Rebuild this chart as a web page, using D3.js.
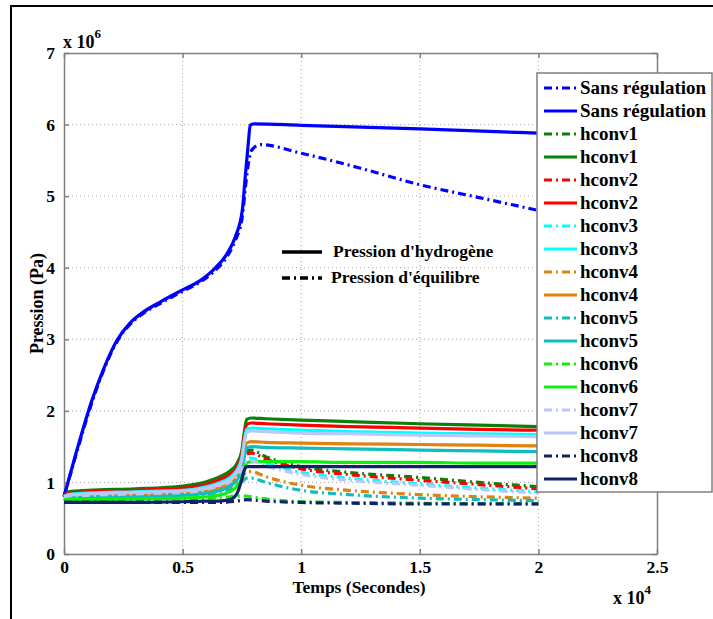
<!DOCTYPE html>
<html>
<head>
<meta charset="utf-8">
<script src="https://cdn.jsdelivr.net/npm/d3@7"></script>
<style>
  html, body { margin: 0; padding: 0; background: #fff; }
  svg { display: block; }
  text { font-family: "Liberation Serif", "DejaVu Serif", serif; font-weight: bold; }
</style>
</head>
<body>
<svg id="chart" width="713" height="619"></svg>
<script>
// ---------- DATA (time in seconds, pressure in Pa ×1e6) ----------
const xTicks = [0, 5000, 10000, 15000, 20000, 25000];
const xTickLabels = ["0", "0.5", "1", "1.5", "2", "2.5"];
const yTicks = [0, 1e6, 2e6, 3e6, 4e6, 5e6, 6e6, 7e6];
const yTickLabels = ["0", "1", "2", "3", "4", "5", "6", "7"];

// Sans régulation
const tSans = [0, 500, 1180, 1650, 2240, 2790, 3340, 4050, 5000, 5740, 6300, 6880, 7220, 7520, 7640, 7770, 7850, 8000, 10000, 15000, 20000];
const sansH2 = [0.80, 1.40, 2.15, 2.57, 2.99, 3.23, 3.38, 3.52, 3.69, 3.82, 3.97, 4.20, 4.43, 4.81, 5.27, 5.74, 5.99, 6.01, 5.99, 5.94, 5.88];
const tSansEq = [0, 500, 1180, 1650, 2240, 2790, 3340, 4050, 5000, 5740, 6300, 6880, 7220, 7520, 7640, 7770, 7930, 8280, 10000, 12500, 15000, 17500, 20000];
const sansEq = [0.80, 1.38, 2.12, 2.55, 2.97, 3.21, 3.36, 3.50, 3.67, 3.80, 3.94, 4.16, 4.38, 4.72, 5.10, 5.45, 5.65, 5.72, 5.60, 5.39, 5.16, 4.98, 4.80];

// hconv1..8 share one time base
const tConv = [0, 200, 1000, 3000, 5000, 6000, 6500, 7000, 7300, 7500, 7600, 7700, 7900, 8500, 10000, 12000, 15000, 17500, 20000];

const conv1H2 = [0.80, 0.87, 0.89, 0.91, 0.95, 1.01, 1.07, 1.16, 1.27, 1.45, 1.70, 1.88, 1.90, 1.89, 1.87, 1.85, 1.82, 1.80, 1.78];
const conv1Eq = [0.80, 0.85, 0.87, 0.89, 0.93, 0.98, 1.03, 1.11, 1.20, 1.32, 1.40, 1.44, 1.45, 1.36, 1.22, 1.14, 1.07, 1.00, 0.94];
const conv2H2 = [0.80, 0.85, 0.87, 0.89, 0.92, 0.97, 1.03, 1.11, 1.22, 1.40, 1.64, 1.81, 1.83, 1.82, 1.80, 1.78, 1.76, 1.74, 1.73];
const conv2Eq = [0.80, 0.83, 0.85, 0.87, 0.90, 0.95, 1.00, 1.07, 1.17, 1.28, 1.36, 1.40, 1.41, 1.33, 1.19, 1.11, 1.03, 0.97, 0.91];
const conv3H2 = [0.80, 0.83, 0.85, 0.87, 0.89, 0.94, 0.99, 1.07, 1.18, 1.35, 1.58, 1.74, 1.76, 1.75, 1.73, 1.71, 1.69, 1.68, 1.67];
const conv3Eq = [0.80, 0.82, 0.83, 0.85, 0.87, 0.92, 0.97, 1.03, 1.12, 1.22, 1.29, 1.33, 1.34, 1.27, 1.14, 1.06, 0.98, 0.92, 0.87];
const conv4H2 = [0.80, 0.81, 0.82, 0.83, 0.85, 0.88, 0.92, 0.99, 1.08, 1.23, 1.42, 1.55, 1.57, 1.56, 1.55, 1.54, 1.53, 1.52, 1.51];
const conv4Eq = [0.80, 0.80, 0.80, 0.81, 0.83, 0.86, 0.89, 0.94, 1.01, 1.08, 1.12, 1.15, 1.15, 1.08, 0.96, 0.89, 0.83, 0.80, 0.78];
const conv5H2 = [0.80, 0.79, 0.79, 0.80, 0.82, 0.85, 0.88, 0.95, 1.04, 1.18, 1.36, 1.48, 1.50, 1.49, 1.48, 1.47, 1.45, 1.44, 1.43];
const conv5Eq = [0.79, 0.78, 0.78, 0.79, 0.80, 0.83, 0.86, 0.90, 0.96, 1.01, 1.04, 1.06, 1.06, 1.00, 0.89, 0.83, 0.78, 0.76, 0.745];
const conv6H2 = [0.78, 0.76, 0.76, 0.77, 0.78, 0.80, 0.82, 0.87, 0.95, 1.06, 1.18, 1.27, 1.29, 1.29, 1.29, 1.28, 1.28, 1.27, 1.27];
const conv6Eq = [0.77, 0.75, 0.75, 0.76, 0.77, 0.78, 0.79, 0.80, 0.81, 0.81, 0.81, 0.81, 0.80, 0.77, 0.73, 0.72, 0.71, 0.70, 0.70];
const conv7H2 = [0.80, 0.82, 0.84, 0.86, 0.88, 0.92, 0.97, 1.04, 1.15, 1.32, 1.55, 1.70, 1.72, 1.71, 1.69, 1.68, 1.66, 1.65, 1.64];
const conv7Eq = [0.80, 0.81, 0.82, 0.84, 0.86, 0.90, 0.95, 1.01, 1.09, 1.19, 1.26, 1.29, 1.30, 1.23, 1.11, 1.03, 0.96, 0.90, 0.85];
const conv8H2 = [0.72, 0.72, 0.72, 0.72, 0.73, 0.74, 0.74, 0.76, 0.85, 1.05, 1.17, 1.22, 1.22, 1.22, 1.22, 1.22, 1.22, 1.22, 1.22];
const conv8Eq = [0.72, 0.72, 0.72, 0.72, 0.72, 0.72, 0.72, 0.73, 0.74, 0.75, 0.755, 0.76, 0.755, 0.74, 0.72, 0.71, 0.70, 0.70, 0.70];

const seriesNames = ["Sans régulation", "hconv1", "hconv2", "hconv3", "hconv4", "hconv5", "hconv6", "hconv7", "hconv8"];
const seriesColors = ["#0000ff", "#0a800a", "#ff0000", "#00ffff", "#e0820f", "#10bcbc", "#10f010", "#b8c8f8", "#0f2468"];
const annotationLabels = ["Pression d'hydrogène", "Pression d'équilibre"];

// ---------- BUILD SERIES ----------
const convH2 = [conv1H2, conv2H2, conv3H2, conv4H2, conv5H2, conv6H2, conv7H2, conv8H2];
const convEq = [conv1Eq, conv2Eq, conv3Eq, conv4Eq, conv5Eq, conv6Eq, conv7Eq, conv8Eq];
const series = [];
series.push({name: seriesNames[0], color: seriesColors[0], dash: true, pts: tSansEq.map((t, i) => [t, sansEq[i] * 1e6])});
series.push({name: seriesNames[0], color: seriesColors[0], dash: false, pts: tSans.map((t, i) => [t, sansH2[i] * 1e6])});
for (let k = 0; k < 8; k++) {
  series.push({name: seriesNames[k + 1], color: seriesColors[k + 1], dash: true, pts: tConv.map((t, i) => [t, convEq[k][i] * 1e6])});
  series.push({name: seriesNames[k + 1], color: seriesColors[k + 1], dash: false, pts: tConv.map((t, i) => [t, convH2[k][i] * 1e6])});
}

// ---------- CHART ----------
const svg = d3.select("#chart");
const L = 64, R = 657, T = 53, B = 554;
const x = d3.scaleLinear().domain([0, 25000]).range([L, R]);
const y = d3.scaleLinear().domain([0, 7e6]).range([B, T]);
const DASH = "8,4,2,4";
const axisGray = "#7f7f7f";

// outer frame
svg.append("rect").attr("x", 11).attr("y", 6).attr("width", 720).attr("height", 630)
  .attr("fill", "#fff").attr("stroke", "#000").attr("stroke-width", 2);

// grid
const grid = svg.append("g");
grid.selectAll("line.gx").data(xTicks.slice(1, -1)).join("line")
  .attr("x1", d => x(d)).attr("x2", d => x(d)).attr("y1", T).attr("y2", B)
  .attr("stroke", "#a0a0a0").attr("stroke-width", 1).attr("stroke-dasharray", "1,3");
grid.selectAll("line.gy").data(yTicks.slice(1, -1)).join("line")
  .attr("x1", L).attr("x2", R).attr("y1", d => y(d)).attr("y2", d => y(d))
  .attr("stroke", "#a0a0a0").attr("stroke-width", 1).attr("stroke-dasharray", "1,3");

// axes (ticks inward)
function styleAxis(g) {
  g.select(".domain").attr("stroke", axisGray).attr("stroke-width", 1.5);
  g.selectAll(".tick line").attr("stroke", axisGray).attr("stroke-width", 1.5);
  g.selectAll("text").attr("font-family", "Liberation Serif, serif").attr("font-weight", "bold").attr("font-size", 17.5).attr("fill", "#000");
}
const xAxis = d3.axisBottom(x).tickValues(xTicks).tickFormat((d, i) => xTickLabels[i]).tickSizeInner(-5).tickSizeOuter(0).tickPadding(7);
svg.append("g").attr("transform", `translate(0,${B})`).call(xAxis).call(styleAxis);
const xAxisTop = d3.axisTop(x).tickValues(xTicks).tickFormat("").tickSizeInner(-5).tickSizeOuter(0);
svg.append("g").attr("transform", `translate(0,${T})`).call(xAxisTop).call(styleAxis);
const yAxis = d3.axisLeft(y).tickValues(yTicks).tickFormat((d, i) => yTickLabels[i]).tickSizeInner(-5).tickSizeOuter(0).tickPadding(9);
svg.append("g").attr("transform", `translate(${L},0)`).call(yAxis).call(styleAxis);
const yAxisRight = d3.axisRight(y).tickValues(yTicks).tickFormat("").tickSizeInner(-5).tickSizeOuter(0);
svg.append("g").attr("transform", `translate(${R},0)`).call(yAxisRight).call(styleAxis);

// lines
const line = d3.line().curve(d3.curveMonotoneX).x(d => x(d[0])).y(d => y(d[1]));
const plot = svg.append("g");
series.forEach(s => {
  plot.append("path").attr("d", line(s.pts)).attr("fill", "none")
    .attr("stroke", s.color).attr("stroke-width", 3.2)
    .attr("stroke-linejoin", "round")
    .attr("stroke-dasharray", s.dash ? DASH : null);
});

// multipliers
const m6 = svg.append("text").attr("x", 63).attr("y", 48).attr("font-size", 18);
m6.append("tspan").text("x 10");
m6.append("tspan").attr("dy", -10).attr("font-size", 13).text("6");
const m4 = svg.append("text").attr("x", 613).attr("y", 604).attr("font-size", 18);
m4.append("tspan").text("x 10");
m4.append("tspan").attr("dy", -10).attr("font-size", 13).text("4");

// axis labels
svg.append("text").attr("x", 359).attr("y", 593).attr("text-anchor", "middle").attr("font-size", 17.5).text("Temps (Secondes)");
svg.append("text").attr("transform", `translate(43,${(T + B) / 2}) rotate(-90)`).attr("text-anchor", "middle").attr("font-size", 18).text("Pression (Pa)");

// annotation legend (line styles)
svg.append("line").attr("x1", 282).attr("x2", 322).attr("y1", 252).attr("y2", 252).attr("stroke", "#000").attr("stroke-width", 3.5);
svg.append("line").attr("x1", 282).attr("x2", 322).attr("y1", 278).attr("y2", 278).attr("stroke", "#000").attr("stroke-width", 3.5).attr("stroke-dasharray", DASH);
svg.append("text").attr("x", 333).attr("y", 257).attr("font-size", 17.5).text(annotationLabels[0]);
svg.append("text").attr("x", 331).attr("y", 283).attr("font-size", 17.5).text(annotationLabels[1]);

// legend
const lg = svg.append("g");
lg.append("rect").attr("x", 537).attr("y", 73).attr("width", 175).attr("height", 419)
  .attr("fill", "#fff").attr("stroke", axisGray).attr("stroke-width", 1.5);
series.forEach((s, i) => {
  const cy = 88 + i * 23;
  lg.append("line").attr("x1", 544).attr("x2", 577).attr("y1", cy).attr("y2", cy)
    .attr("stroke", s.color).attr("stroke-width", 3.2).attr("stroke-dasharray", s.dash ? DASH : null);
  lg.append("text").attr("x", 580).attr("y", cy + 6).attr("font-size", 19).text(s.name);
});
</script>
</body>
</html>
